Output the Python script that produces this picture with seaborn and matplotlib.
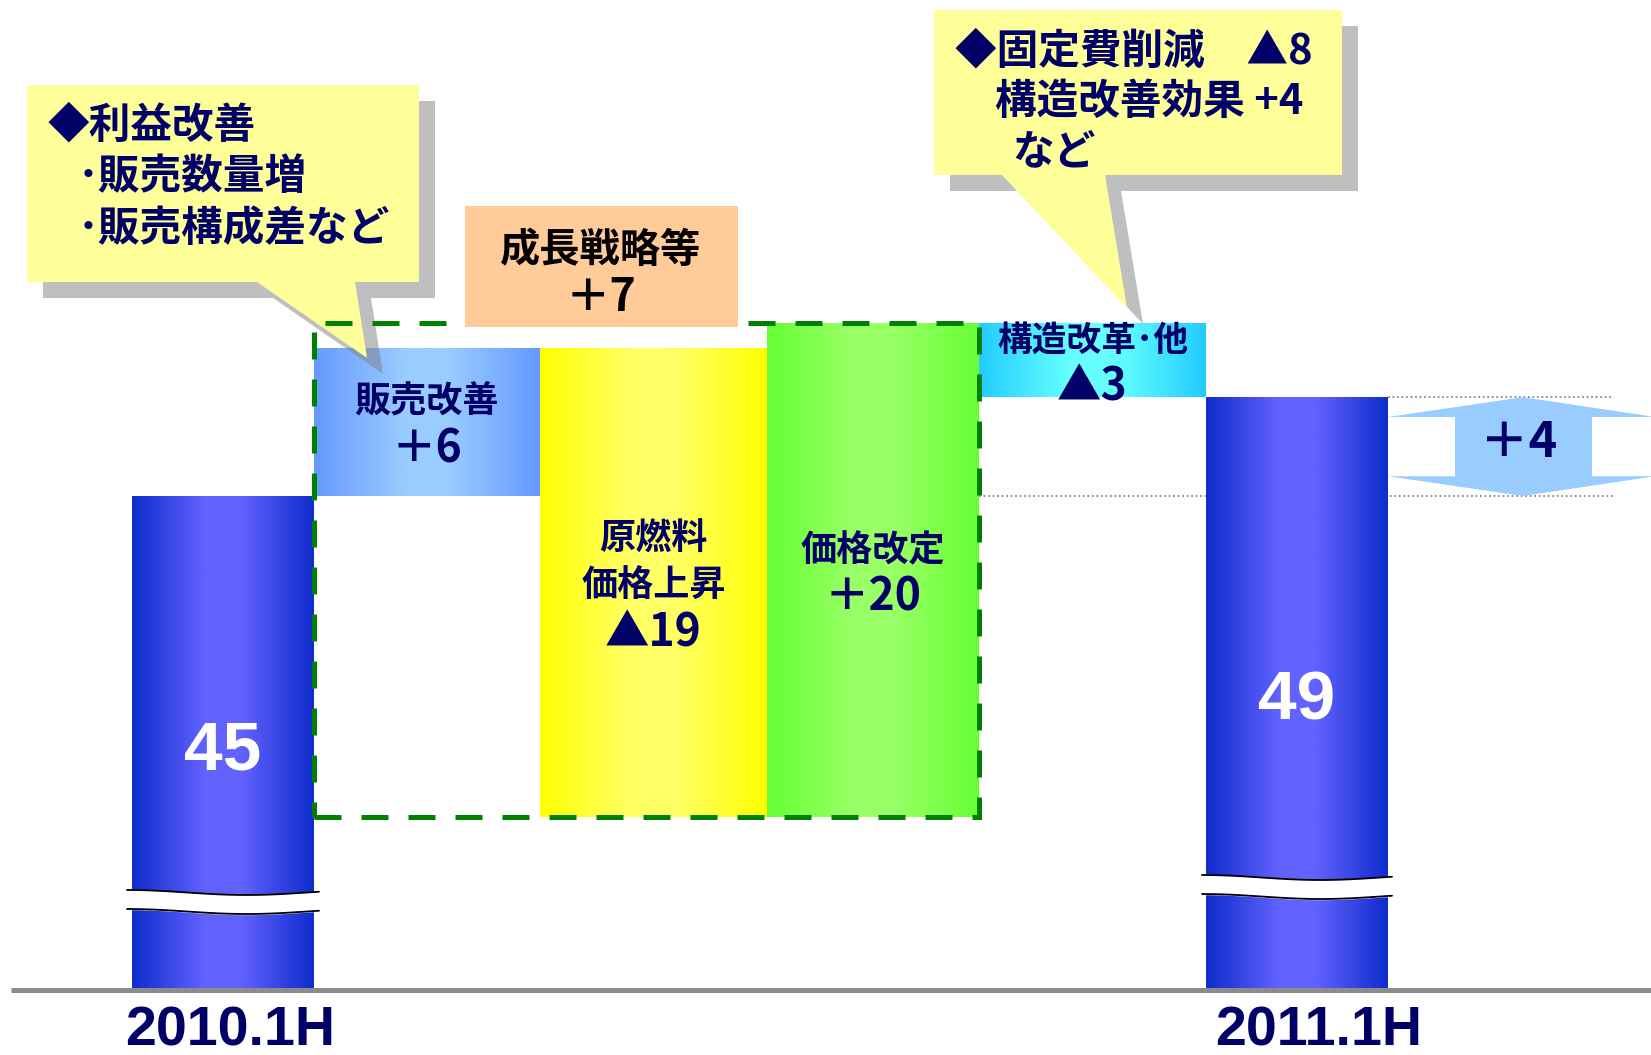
import numpy as np
import matplotlib
matplotlib.use("Agg")
import matplotlib.pyplot as plt
import matplotlib.transforms as mtransforms
from matplotlib.patches import Polygon, Rectangle
from matplotlib.colors import LinearSegmentedColormap
import seaborn as sns

## data
categories = ['2010.1H', '販売改善', '原燃料価格上昇', '価格改定', '構造改革･他', '2011.1H']
changes = [45, 6, -19, 20, -3, 49]
kinds = ['total', 'delta', 'delta', 'delta', 'delta', 'total']
bar_texts = ['45', '販売改善\n＋6', '原燃料\n価格上昇\n▲19', '価格改定\n＋20', '構造改革･他\n▲3', '49']
growth_text = ['成長戦略等', '＋7']
callout_left = ['◆利益改善', '･販売数量増', '･販売構成差など']
callout_right = ['◆固定費削減　▲8', '構造改善効果 +4', 'など']

## style
sns.set_theme(style='white')
plt.rcParams['font.family'] = ['Noto Sans CJK JP', 'DejaVu Sans']
NAVY = '#000066'
grads = {
    'total': ['#0f2ccc', '#6262ff', '#6262ff', '#0f2ccc'],
    '販売改善': ['#6699ff', '#99ccff', '#99ccff', '#6699ff'],
    '原燃料価格上昇': ['#ffff00', '#ffff66', '#ffff66', '#ffff00'],
    '価格改定': ['#66ff33', '#99ff66', '#99ff66', '#66ff33'],
    '構造改革･他': ['#22ccff', '#66ffff', '#66ffff', '#22ccff'],
}
stops = [0, 0.4, 0.6, 1]

## layout (reference pixels)
W, H = 1651, 1055
base_px = 990
px_per_unit = 24.7
ylo = 25.0
bar_edges = [132, 314, 540, 767, 979, 1206, 1388]

fig = plt.figure(figsize=(W / 100, H / 100), dpi=100)
ax = fig.add_axes([0, (H - base_px) / H, 1, base_px / H])
px = mtransforms.Affine2D().scale(1 / W, -1 / H).translate(0, 1) + fig.transFigure

## waterfall levels
bottoms, tops = [], []
level = 0
for v, k in zip(changes, kinds):
    if k == 'total':
        bottoms.append(ylo)
        tops.append(v)
        level = v
    else:
        bottoms.append(min(level, level + v))
        tops.append(max(level, level + v))
        level += v

lefts = bar_edges[:-1]
widths = np.diff(bar_edges)
bars = ax.bar(lefts, np.array(tops) - np.array(bottoms), bottom=bottoms, width=widths,
              align='edge', color='none', edgecolor='none', zorder=2)

for patch, cat, k in zip(bars, categories, kinds):
    cols = grads['total'] if k == 'total' else grads[cat]
    cmap = LinearSegmentedColormap.from_list('g', list(zip(stops, cols)))
    x0, y0 = patch.get_x(), patch.get_y()
    im = ax.imshow(np.linspace(0, 1, 256)[None, :], cmap=cmap, aspect='auto',
                   extent=(x0, x0 + patch.get_width(), y0, y0 + patch.get_height()),
                   interpolation='bilinear', zorder=2)
    im.set_clip_path(patch)

ax.set_xlim(0, W)
ax.set_ylim(ylo, ylo + base_px / px_per_unit)
ax.axis('off')

# baseline
ax.plot([11, W], [ylo, ylo], color='#8c8c8c', lw=3.6, clip_on=False, zorder=3,
        solid_capstyle='butt')

# dotted guide lines
ax.plot([bar_edges[4], 1613], [changes[0], changes[0]], color='#8a8a8a', lw=1.3,
        ls=(0, (1, 1.5)), zorder=1)
ax.plot([bar_edges[6], 1613], [changes[-1], changes[-1]], color='#8a8a8a', lw=1.3,
        ls=(0, (1, 1.5)), zorder=1)

# axis break waves
for (x0, x1, yt) in [(127, 319, 892.5), (1202, 1392, 877.5)]:
    t = np.linspace(0, 1, 100)
    xs = x0 + (x1 - x0) * t
    wave = -2.5 * np.cos(1.6 * np.pi * t)
    top = yt + wave
    bot = yt + 19 + wave
    ax.fill_between(xs, top, bot, color='white', transform=px, zorder=3, clip_on=False)
    ax.plot(xs, top, color='black', lw=1.3, transform=px, zorder=3, clip_on=False)
    ax.plot(xs, bot, color='black', lw=1.3, transform=px, zorder=3, clip_on=False)

# labels inside bars
for i, (txt, k) in enumerate(zip(bar_texts, kinds)):
    if k == 'total':
        continue
    lines = txt.split('\n')
    xc = lefts[i] + widths[i] / 2
    yc = (bottoms[i] + tops[i]) / 2
    n = len(lines)
    for j, line in enumerate(lines):
        dy = -(j - (n - 1) / 2) * 47 - 4
        size = 32 if line[0] in '＋▲' else (25 if n == 2 and '･' in line else 26)
        tr = mtransforms.offset_copy(ax.transData, fig=fig, x=0, y=dy, units='dots')
        ax.text(xc, yc, line, transform=tr, ha='center', va='center', fontsize=size,
                fontweight='bold', color=NAVY, zorder=8)

# total bar values
ax.text(lefts[0] + widths[0] / 2, 752, bar_texts[0], transform=px, ha='center', va='center',
        fontsize=50, fontweight='bold', color='white', family='Liberation Sans', zorder=8)
ax.text(lefts[5] + widths[5] / 2, 702, bar_texts[5], transform=px, ha='center', va='center',
        fontsize=50, fontweight='bold', color='white', family='Liberation Sans', zorder=8)

# category labels
ax.text(230, 1032, categories[0], transform=px, ha='center', va='center', fontsize=40,
        fontweight='bold', color=NAVY, family='Liberation Sans', clip_on=False)
ax.text(1319, 1032, categories[5], transform=px, ha='center', va='center', fontsize=40,
        fontweight='bold', color=NAVY, family='Liberation Sans', clip_on=False)

# dashed frame around growth items
fb = min(bottoms[1:4])
ft = max(tops[1:4])
ax.add_patch(Rectangle((bar_edges[1], fb), bar_edges[4] - bar_edges[1], ft - fb, fill=False,
                       edgecolor='#008000', lw=3.6, ls=(0, (5.4, 4)), zorder=6))

# +4 double arrow
a_top, a_bot = changes[-1], changes[0]
hl = 0.2 * (a_top - a_bot)
arrow = [(1523, a_top), (1655, a_top - hl), (1592, a_top - hl), (1592, a_bot + hl),
         (1655, a_bot + hl), (1523, a_bot), (1388, a_bot + hl), (1455, a_bot + hl),
         (1455, a_top - hl), (1388, a_top - hl)]
ax.add_patch(Polygon(arrow, closed=True, facecolor='#99ccff', edgecolor='none', zorder=2))
ax.text(1519, (a_top + a_bot) / 2 + 0.15, '＋%d' % (changes[-1] - changes[0]), ha='center',
        va='center', fontsize=35, fontweight='bold', color=NAVY, zorder=8)

# callouts
def callout(pts, lines, starts, ys, size=30):
    shadow = [(x + 16, y + 16) for x, y in pts]
    ax.add_patch(Polygon(shadow, closed=True, facecolor='#808080', edgecolor='none',
                         alpha=0.5, transform=px, zorder=4, clip_on=False))
    ax.add_patch(Polygon(pts, closed=True, facecolor='#ffff99', edgecolor='none',
                         transform=px, zorder=5, clip_on=False))
    for line, x, y in zip(lines, starts, ys):
        ax.text(x, y, line, transform=px, ha='left', va='center', fontsize=size,
                fontweight='bold', color=NAVY, zorder=8, clip_on=False)

callout([(27, 85), (419, 85), (419, 282), (355, 282), (367, 358), (257, 282), (27, 282)],
        callout_left, [47, 78, 78], [126, 177, 229])
callout([(934, 10), (1342, 10), (1342, 175), (1105, 175), (1127, 308), (1002, 175), (934, 175)],
        callout_right, [955, 995, 1012], [51, 102, 152])

# growth strategy box
ax.add_patch(Rectangle((465, 206), 273, 121, facecolor='#ffcc99', edgecolor='none',
                       transform=px, zorder=7, clip_on=False))
ax.text(601, 250, growth_text[0], transform=px, ha='center', va='center', fontsize=29,
        fontweight='bold', color='black', zorder=8)
ax.text(601, 298, growth_text[1], transform=px, ha='center', va='center', fontsize=32,
        fontweight='bold', color='black', zorder=8)

fig.savefig('out.png', dpi=100)
